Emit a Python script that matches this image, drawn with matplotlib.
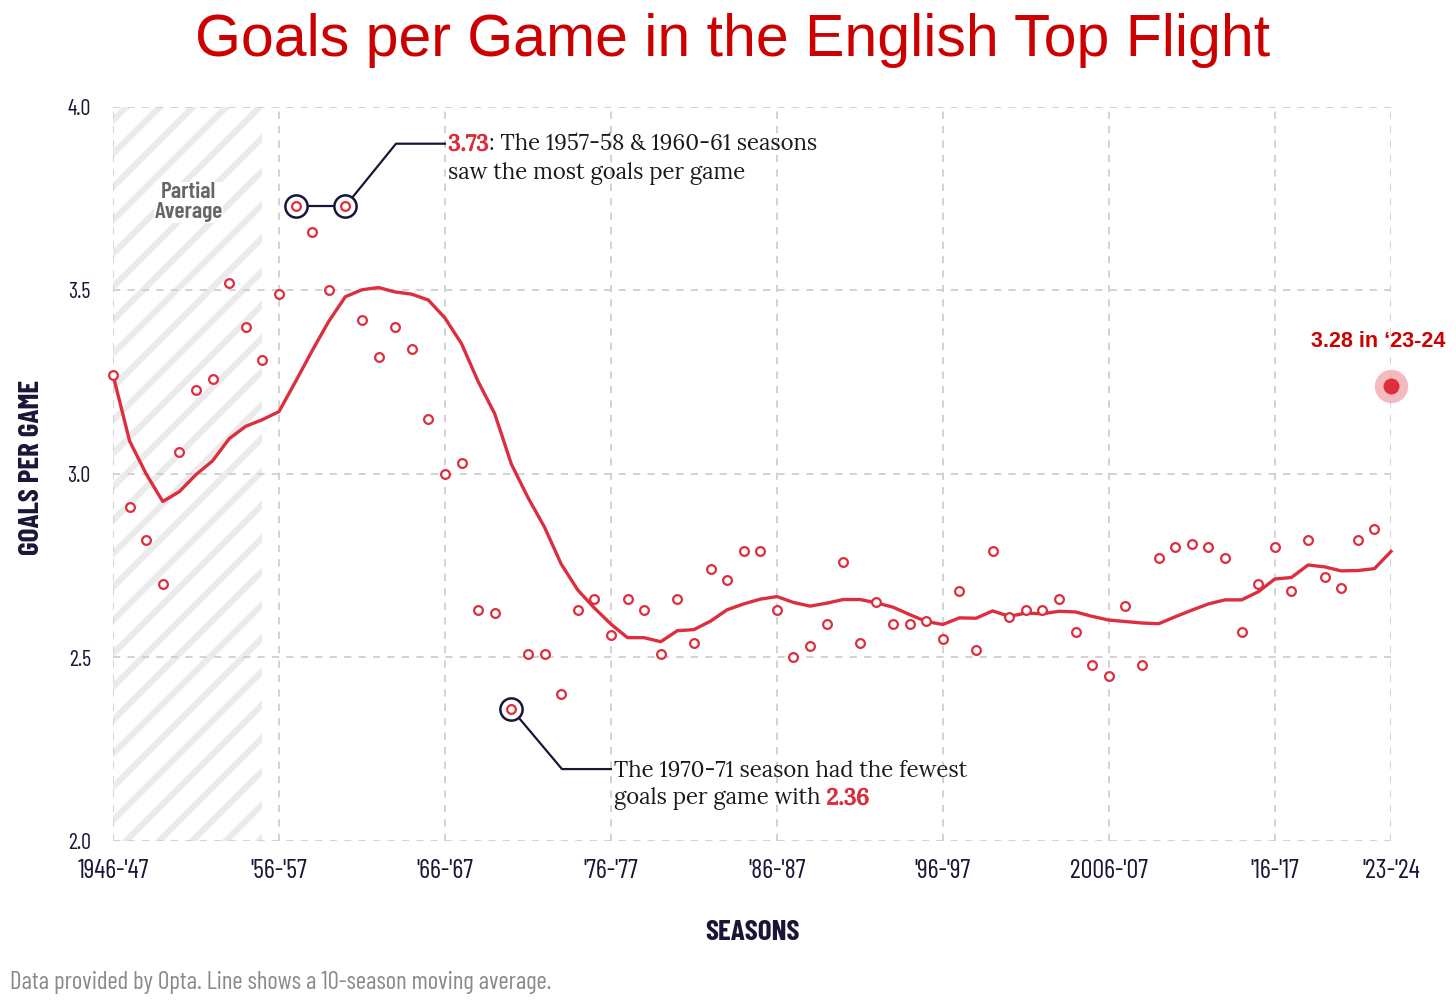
import matplotlib
matplotlib.use("Agg")
import matplotlib.pyplot as plt
import matplotlib.patheffects as pe
import numpy as np
import pandas as pd

# 字体
COND = 'Barlow Condensed'
SERIF = 'Lora'
SANS = 'Liberation Sans'

plt.rcParams['hatch.linewidth'] = 4.5

# 数据：每赛季场均进球（1946-47 到 2023-24）
seasons = list(range(1946, 2024))
goals = [3.27, 2.91, 2.82, 2.70, 3.06, 3.23, 3.26, 3.52, 3.40, 3.31,
         3.49, 3.73, 3.66, 3.50, 3.73, 3.42, 3.32, 3.40, 3.34, 3.15,
         3.00, 3.03, 2.63, 2.62, 2.36, 2.51, 2.51, 2.40, 2.63, 2.66,
         2.56, 2.66, 2.63, 2.51, 2.66, 2.54, 2.74, 2.71, 2.79, 2.79,
         2.63, 2.50, 2.53, 2.59, 2.76, 2.54, 2.65, 2.59, 2.59, 2.60,
         2.55, 2.68, 2.52, 2.79, 2.61, 2.63, 2.63, 2.66, 2.57, 2.48,
         2.45, 2.64, 2.48, 2.77, 2.80, 2.81, 2.80, 2.77, 2.57, 2.70,
         2.80, 2.68, 2.82, 2.72, 2.69, 2.82, 2.85, 3.24]
tick_idx = [0, 10, 20, 30, 40, 50, 60, 70, 77]
tick_labels = ["1946-'47", "'56-'57", "'66-'67", "'76-'77", "'86-'87",
               "'96-'97", "2006-'07", "'16-'17", "'23-'24"]
y_ticks = [2.0, 2.5, 3.0, 3.5, 4.0]

RED = '#dc2f3e'
NAVY = '#1b1537'
INK = '#1a1a1a'
FS = 16  # 注释字号

x = np.arange(len(seasons))
g = pd.Series(goals)
avg = g.rolling(10, min_periods=1).mean()  # 10赛季移动平均

fig = plt.figure(figsize=(14.56, 10.01), dpi=100)
ax = fig.add_axes([113/1456, 1-841/1001, 1278/1456, 734/1001])

ax.set_xlim(0, 77)
ax.set_ylim(2.0, 4.0)

# 部分平均区域（斜线）
ax.axvspan(0, 9, facecolor='white', edgecolor='#ebebeb', hatch='/', linewidth=0, zorder=0.3)

# 网格与刻度
ax.set_axisbelow(True)
ax.set_xticks(tick_idx)
ax.set_xticklabels(tick_labels)
ax.set_yticks(y_ticks)
ax.set_yticklabels([f"{v:.1f}" for v in y_ticks])
ax.grid(True, color='#cfcfcf', linestyle=(0, (4, 4)), linewidth=1.3)
for s in ax.spines.values():
    s.set_visible(False)
ax.tick_params(length=0, labelcolor=NAVY)
ax.tick_params(axis='y', pad=16, labelsize=16)
ax.tick_params(axis='x', pad=13, labelsize=19)
for lab in ax.get_xticklabels() + ax.get_yticklabels():
    lab.set_fontfamily(COND)
    lab.set_fontweight(400)

# 移动平均线
ax.plot(x, avg, color=RED, linewidth=2.4, solid_joinstyle='round', zorder=3, clip_on=False)

# 注释连接线和圆圈
hi = [11, 14]
lo = 24
ax.plot([x[hi[0]], x[hi[1]]], [goals[hi[0]], goals[hi[1]]], color=NAVY, lw=1.6, zorder=4)
ax.plot([x[hi[1]], 17.05, 20.0], [goals[hi[1]], 3.90, 3.90], color=NAVY, lw=1.6, zorder=4)
ax.plot([x[lo], 27.05, 30.0], [goals[lo], 2.196, 2.196], color=NAVY, lw=1.6, zorder=4)
ax.plot([x[i] for i in hi + [lo]], [goals[i] for i in hi + [lo]], 'o', ms=16,
        mfc='white', mec=NAVY, mew=1.8, zorder=5)

# 数据点
ax.plot(x[:-1], goals[:-1], 'o', ms=6.3, mfc='white', mec=RED, mew=1.6, zorder=6, clip_on=False)

# 最后一个赛季
ax.plot(x[-1], goals[-1], 'o', ms=24, color='#f2a9ad', alpha=0.8, mew=0, zorder=6, clip_on=False)
ax.plot(x[-1], goals[-1], 'o', ms=11.5, color=RED, mew=0, zorder=7, clip_on=False)
ax.text(76.2, 3.36, "3.28 in \u201823-24", color='#cc0000', fontsize=15.5, fontweight='bold',
        family=SANS, ha='center', va='center')

# 注释文字（红色数字加描边模拟粗体）
bold_fx = [pe.withStroke(linewidth=0.9, foreground=RED)]
t1 = ax.text(20.2, 3.897, "3.73", color=RED, fontsize=FS, family=SERIF,
             ha='left', va='center', zorder=8, path_effects=bold_fx)
ax.annotate(": The 1957-58 & 1960-61 seasons", xy=(1, 0), xycoords=t1, ha='left', va='bottom',
            fontsize=FS, family=SERIF, color=INK)
ax.text(20.2, 3.82, "saw the most goals per game", fontsize=FS, family=SERIF, color=INK,
        ha='left', va='center')

ax.text(30.2, 2.19, "The 1970-71 season had the fewest", fontsize=FS, family=SERIF,
        color=INK, ha='left', va='center')
t2 = ax.text(30.2, 2.115, "goals per game with ", fontsize=FS, family=SERIF,
             color=INK, ha='left', va='center')
ax.annotate("2.36", xy=(1, 0), xycoords=t2, ha='left', va='bottom', fontsize=FS,
            family=SERIF, color=RED, path_effects=bold_fx)

ax.text(4.55, 3.74, "Partial\nAverage", color='#666666', fontsize=17, fontweight=600,
        family=COND, ha='center', va='center', linespacing=1.0,
        bbox=dict(facecolor='white', edgecolor='none', pad=0.5), zorder=2)

# 标题和轴标签
fig.text(733/1456, 1-41/1001, "Goals per Game in the English Top Flight", color='#cc0000',
         fontsize=42.5, family=SANS, ha='center', va='center')
fig.text(32/1456, 1-467/1001, "GOALS PER GAME", rotation=90, color=NAVY, fontsize=21,
         fontweight='bold', family=COND, ha='center', va='center')
fig.text(752/1456, 1-932/1001, "SEASONS", color=NAVY, fontsize=21, fontweight='bold',
         family=COND, ha='center', va='center')
fig.text(10/1456, 1-982/1001, "Data provided by Opta. Line shows a 10-season moving average.",
         color='#8a8a8a', fontsize=18, family=COND, ha='left', va='center')

fig.savefig('out.png', dpi=100)
